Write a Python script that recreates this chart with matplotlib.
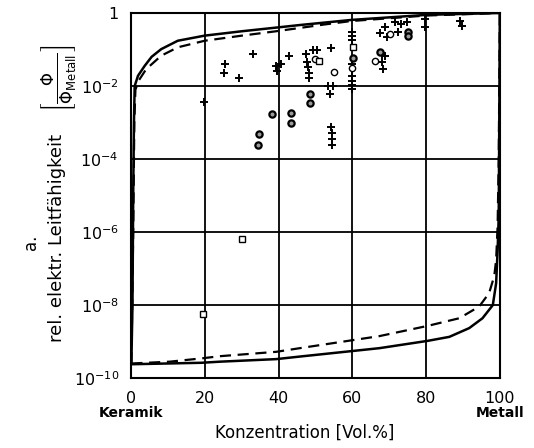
import matplotlib
matplotlib.use('Agg')
import matplotlib.pyplot as plt
import numpy as np

# Grenzkurven (x in Vol.% Metall, y als log10 der rel. Leitfaehigkeit)
oben_x = [0, 0.3, 0.5, 0.7, 0.9, 1.8, 3.6, 5.5, 8.1, 12.6, 19.9, 30, 39.3, 45.7, 59.7, 80.3, 100]
oben_log = [-9.6, -8.0, -5.0, -3.0, -2.0, -1.72, -1.45, -1.2, -0.99, -0.76, -0.62, -0.50, -0.40,
            -0.33, -0.19, -0.05, 0]

oben_gestr_x = [0, 0.5, 0.8, 1.1, 2.0, 4.0, 8.1, 12.6, 19.9, 30, 39.3, 45.7, 52, 59.7, 80.0, 100]
oben_gestr_log = [-9.6, -6.0, -3.0, -2.1, -1.85, -1.54, -1.17, -0.94, -0.76, -0.62, -0.50, -0.41,
                  -0.32, -0.22, -0.07, 0]

unten_x = [0, 19, 24, 39.3, 45.7, 67.3, 80.4, 86.3, 91.7, 95.3, 98.1, 99.0, 99.4, 99.7, 99.85, 99.95, 100]
unten_log = [-9.62, -9.58, -9.55, -9.48, -9.41, -9.18, -8.98, -8.87, -8.63, -8.36, -8.0, -7.4, -6.5,
             -5.57, -3.0, -1.0, 0]

unten_gestr_x = [0, 10.4, 19, 24, 39.3, 45.7, 67.3, 80.4, 89.0, 94.4, 97.1, 98.5, 99.0, 99.4, 99.7, 99.85, 100]
unten_gestr_log = [-9.6, -9.55, -9.46, -9.40, -9.28, -9.18, -8.85, -8.57, -8.36, -8.04, -7.67, -7.2,
                   -6.76, -5.84, -4.0, -2.0, 0]

# Messwerte
plus_x = [19.8, 25.4, 25.2, 29.2, 33.1, 39.2, 39.6, 40.5, 42.8, 47.4, 47.7, 48.0, 48.2, 48.3,
          49.3, 50.3, 54.1, 53.4, 54.6, 53.9, 54.1, 54.5, 54.5, 54.5, 59.8, 59.8, 59.8, 59.9,
          59.8, 59.8, 59.8, 59.8, 67.4, 68.8, 69.3, 71.5, 72.4, 73.3, 74.8, 67.9, 68.8, 67.9,
          68.2, 79.6, 79.6, 89.1, 89.6]
plus_log = [-2.45, -1.41, -1.65, -1.79, -1.13, -1.46, -1.59, -1.40, -1.17, -1.13, -1.35, -1.49,
            -1.63, -1.79, -1.01, -1.01, -0.95, -1.99, -1.99, -2.22, -3.12, -3.28, -3.46, -3.62,
            -0.51, -0.62, -0.74, -1.40, -1.72, -1.86, -1.98, -2.09, -0.55, -0.39, -0.67, -0.26,
            -0.53, -0.30, -0.24, -1.13, -1.17, -1.34, -1.54, -0.16, -0.39, -0.21, -0.35]

kreis_x = [34.7, 34.4, 38.1, 43.3, 43.4, 48.5, 48.5, 60.2, 67.4, 75.1, 75.1]
kreis_log = [-3.32, -3.62, -2.78, -2.73, -3.01, -2.23, -2.47, -1.22, -1.06, -0.53, -0.64]

offen_x = [49.8, 55.0, 59.8, 66.1, 70.2]
offen_log = [-1.26, -1.61, -1.52, -1.31, -0.58]

quadrat_x = [19.5, 30.1, 50.9, 60.2]
quadrat_log = [-8.25, -6.19, -1.31, -0.94]

x_ticks = [0, 20, 40, 60, 80, 100]
y_ticks = [1, 1e-2, 1e-4, 1e-6, 1e-8, 1e-10]
y_ticklabels = ['1', '$10^{-2}$', '$10^{-4}$', '$10^{-6}$', '$10^{-8}$', '$10^{-10}$']

plt.rcParams['font.family'] = ['DejaVu Sans']
plt.rcParams['mathtext.default'] = 'regular'

fig = plt.figure(figsize=(5.34, 4.48), dpi=100)
ax = fig.add_axes([0.246, 0.156, 0.690, 0.815])

ax.plot(oben_x, 10 ** np.array(oben_log), color='black', lw=1.8)
ax.plot(oben_gestr_x, 10 ** np.array(oben_gestr_log), color='black', lw=1.6, ls=(0, (5, 3)))
ax.plot(unten_x, 10 ** np.array(unten_log), color='black', lw=1.8)
ax.plot(unten_gestr_x, 10 ** np.array(unten_gestr_log), color='black', lw=1.6, ls=(0, (5, 3)))

ax.plot(plus_x, 10 ** np.array(plus_log), '+', color='black', ms=6, mew=1.4)
ax.plot(kreis_x, 10 ** np.array(kreis_log), 'o', color='black', mfc='0.6', ms=4.5, mew=1.6)
ax.plot(offen_x, 10 ** np.array(offen_log), 'o', color='black', mfc='white', ms=4.5, mew=1.0)
ax.plot(quadrat_x, 10 ** np.array(quadrat_log), 's', color='black', mfc='white', ms=4.5, mew=1.0)

ax.set_yscale('log')
ax.set_xlim(0, 100)
ax.set_ylim(1e-10, 1)
ax.set_xticks(x_ticks)
ax.set_yticks(y_ticks)
ax.set_yticklabels(y_ticklabels)
ax.minorticks_off()
ax.tick_params(length=0, labelsize=11.5, pad=9)
ax.grid(True, color='black', lw=1.3)
for s in ax.spines.values():
    s.set_linewidth(1.5)

fig.text(131.5 / 534, 1 - 413 / 448, 'Keramik', ha='center', va='center', fontsize=10, fontweight='bold')
fig.text(500 / 534, 1 - 413 / 448, 'Metall', ha='center', va='center', fontsize=10, fontweight='bold')
fig.text(305 / 534, 1 - 433 / 448, 'Konzentration [Vol.%]', ha='center', va='center', fontsize=12)

fig.text(57 / 534, 1 - 238 / 448, 'rel. elektr. Leitfähigkeit', rotation=90, ha='center', va='center', fontsize=13)
fig.text(60 / 534, 1 - 78 / 448, r'$\left[\frac{\Phi}{\Phi_{Metall}}\right]$', rotation=90,
         ha='center', va='center', fontsize=17)
fig.text(31 / 534, 1 - 242 / 448, 'a.', rotation=90, ha='center', va='center', fontsize=12)

fig.savefig('out.png', dpi=100)
